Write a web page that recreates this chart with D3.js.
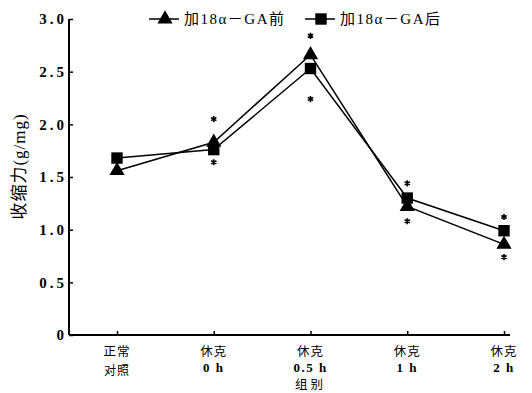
<!DOCTYPE html>
<html>
<head>
<meta charset="utf-8">
<script src="https://cdn.jsdelivr.net/npm/d3@7"></script>
<style>
  body { margin: 0; background: #fff; }
  svg text { fill: #000; }
</style>
</head>
<body>
<div id="chart"></div>
<script>
const groups = ["正常对照", "休克0h", "休克0.5h", "休克1h", "休克2h"];
const groupLines = [["正常", "对照"], ["休克", "0 h"], ["休克", "0.5 h"], ["休克", "1 h"], ["休克", "2 h"]];
const before = [1.56, 1.83, 2.66, 1.22, 0.86];
const after = [1.68, 1.76, 2.53, 1.30, 0.99];
const starTop = [null, 2.05, 2.84, 1.44, 1.12];
const starBottom = [null, 1.64, 2.24, 1.08, 0.74];
const yTicks = [0, 0.5, 1.0, 1.5, 2.0, 2.5, 3.0];
const seriesNames = ["加18α－GA前", "加18α－GA后"];

const width = 532, height = 393;
const margin = { left: 69, top: 19, right: 22, bottom: 58 };

const svg = d3.select("#chart").append("svg")
    .attr("width", width)
    .attr("height", height);

const x = d3.scalePoint()
    .domain(groups)
    .range([117, 504]);

const y = d3.scaleLinear()
    .domain([0, 3])
    .range([height - margin.bottom, margin.top]);

const serif = "Liberation Serif, Times New Roman, DejaVu Serif, serif";
const cjk = "Noto Sans CJK SC, sans-serif";
const mixed = "Liberation Serif, Times New Roman, Noto Sans CJK SC, serif";

// y axis
const yAxis = svg.append("g")
    .attr("transform", `translate(${margin.left},0)`)
    .call(d3.axisRight(y).tickValues(yTicks).tickSize(4).tickFormat(""));
yAxis.select(".domain").attr("stroke-width", 2).attr("d", `M0,${y(3)}V${y(0)}`);
yAxis.selectAll(".tick line").attr("stroke-width", 1.5);

svg.append("g").selectAll("text")
    .data(yTicks)
    .join("text")
    .attr("x", margin.left - 2)
    .attr("y", d => y(d))
    .attr("dy", "0.35em")
    .attr("text-anchor", "end")
    .attr("font-family", serif)
    .attr("font-size", 15)
    .attr("font-weight", "bold")
    .style("letter-spacing", "3px")
    .text(d => d === 0 ? "0" : d.toFixed(1));

// x axis
const xAxis = svg.append("g")
    .attr("transform", `translate(0,${y(0)})`)
    .call(d3.axisTop(x).tickSize(4).tickFormat(""));
xAxis.select(".domain").attr("stroke-width", 2).attr("d", `M${margin.left},0H${width - margin.right}`);
xAxis.selectAll(".tick line").attr("stroke-width", 1.5);

// two-line category labels, one text per line
groupLines.forEach((lines, i) => {
    lines.forEach((txt, k) => {
        const latin = /[0-9]/.test(txt);
        const yPos = k === 0 ? 356 : (latin ? 371.5 : 374.5);
        svg.append("text")
            .attr("x", x(groups[i]))
            .attr("y", yPos)
            .attr("text-anchor", "middle")
            .attr("font-family", latin ? mixed : cjk)
            .attr("font-size", latin ? 13 : (k === 0 ? 12.5 : 12))
            .attr("font-weight", latin ? "bold" : "normal")
            .style("letter-spacing", latin ? "1.5px" : "1px")
            .text(txt);
    });
});

svg.append("text")
    .attr("x", x(groups[2]))
    .attr("y", 389)
    .attr("text-anchor", "middle")
    .attr("font-family", cjk)
    .attr("font-size", 12.5)
    .style("letter-spacing", "3px")
    .text("组别");

svg.append("text")
    .attr("transform", `translate(25,${y(1.6)}) rotate(-90)`)
    .attr("text-anchor", "middle")
    .attr("font-family", mixed)
    .attr("font-size", 17)
    .style("letter-spacing", "1px")
    .text("收缩力(g/mg)");

// lines
const line = d3.line()
    .x((d, i) => x(groups[i]))
    .y(d => y(d));

[before, after].forEach(vals => {
    svg.append("path")
        .datum(vals)
        .attr("d", line)
        .attr("fill", "none")
        .attr("stroke", "#000")
        .attr("stroke-width", 1.5);
});

const triangle = d3.symbol().type(d3.symbolTriangle).size(100);
const square = d3.symbol().type(d3.symbolSquare).size(130);

svg.append("g").selectAll("path")
    .data(after)
    .join("path")
    .attr("d", square)
    .attr("transform", (d, i) => `translate(${x(groups[i])},${y(d)})`)
    .attr("fill", "#000");

svg.append("g").selectAll("path")
    .data(before)
    .join("path")
    .attr("d", triangle)
    .attr("transform", (d, i) => `translate(${x(groups[i])},${y(d)})`)
    .attr("fill", "#000");

// significance asterisks
const star = d3.symbol().type(d3.symbolAsterisk).size(26);
const stars = [];
groups.forEach((g, i) => {
    if (starTop[i] !== null) stars.push([g, starTop[i]]);
    if (starBottom[i] !== null) stars.push([g, starBottom[i]]);
});
svg.append("g").selectAll("path")
    .data(stars)
    .join("path")
    .attr("d", star)
    .attr("transform", d => `translate(${x(d[0])},${y(d[1])})`)
    .attr("fill", "none")
    .attr("stroke", "#000")
    .attr("stroke-width", 1.6);

// legend
const legendItems = [
    { name: seriesNames[0], sym: triangle, x0: 149 },
    { name: seriesNames[1], sym: square, x0: 305 }
];
const legend = svg.append("g").selectAll("g")
    .data(legendItems)
    .join("g")
    .attr("transform", d => `translate(${d.x0},${y(3)})`);

legend.append("line")
    .attr("x1", 0).attr("x2", 30)
    .attr("stroke", "#000")
    .attr("stroke-width", 1.5);
legend.append("path")
    .attr("d", d => d.sym())
    .attr("transform", "translate(16,0)")
    .attr("fill", "#000");
legend.append("text")
    .attr("x", 35)
    .attr("dy", "0.35em")
    .attr("font-family", mixed)
    .attr("font-size", 15)
    .style("letter-spacing", "1.5px")
    .text(d => d.name);
</script>
</body>
</html>
